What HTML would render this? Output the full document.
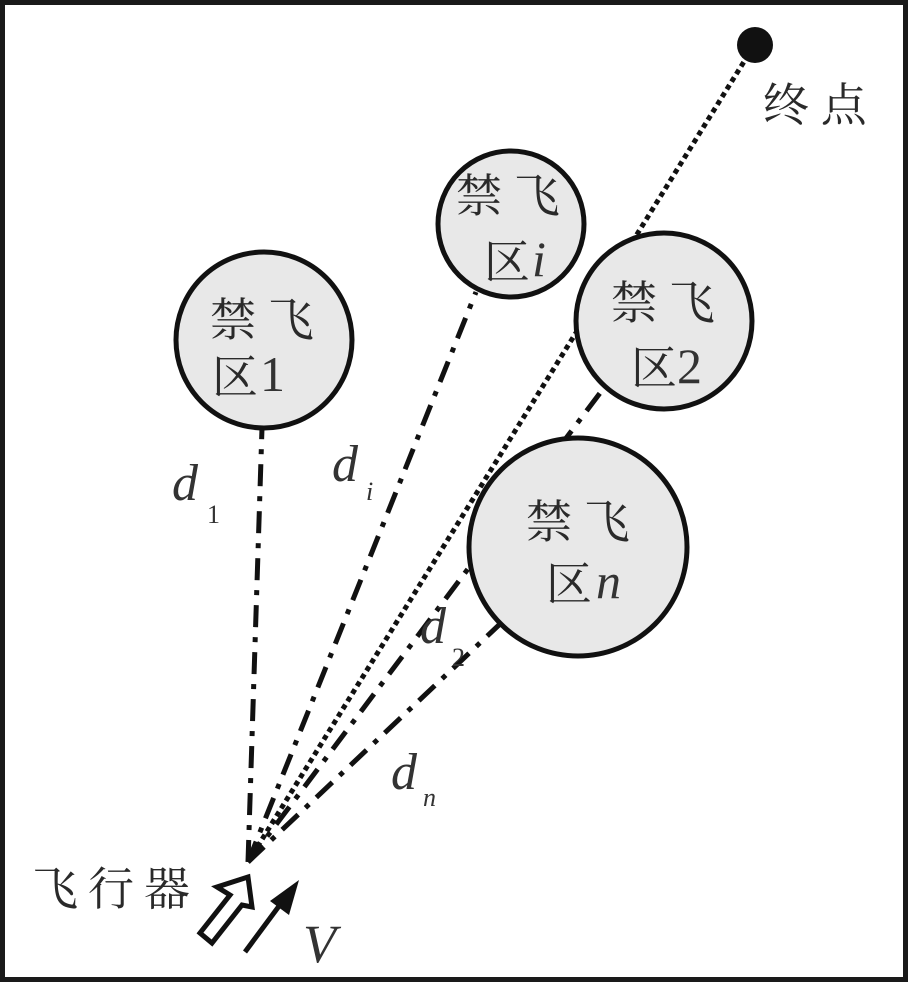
<!DOCTYPE html>
<html><head><meta charset="utf-8"><style>
html,body{margin:0;padding:0;background:#fff;}
svg{display:block;}
.cj{font-family:"Noto Serif CJK SC","Liberation Serif",serif;font-size:46px;fill:#2a2a2a;}
.it{font-family:"Liberation Serif",serif;font-style:italic;fill:#333;}
.up{font-family:"Liberation Serif",serif;font-style:normal;fill:#333;}
</style></head><body>
<svg width="910" height="984" viewBox="0 0 910 984" xmlns="http://www.w3.org/2000/svg">
<rect x="2.5" y="2.5" width="903" height="977" fill="#fff" stroke="#1a1a1a" stroke-width="5"/>
<g stroke="#111" stroke-width="5" fill="none">
<line x1="248" y1="862" x2="262" y2="428" stroke-dasharray="22,10,5,10"/>
<line x1="248" y1="862" x2="476" y2="292" stroke-dasharray="22,10,5,10"/>
<line x1="248" y1="862" x2="600" y2="393" stroke-dasharray="22,10,5,10"/>
<line x1="248" y1="862" x2="500" y2="624" stroke-dasharray="22,10,5,10"/>
<line x1="248" y1="862" x2="745" y2="60" stroke-dasharray="5,4"/>
</g>
<circle cx="755" cy="45" r="18" fill="#111"/>
<g fill="#e8e8e8" stroke="#111" stroke-width="5">
<circle cx="264" cy="340" r="88"/>
<circle cx="511" cy="224" r="73"/>
<circle cx="664" cy="321" r="88"/>
<circle cx="578" cy="547" r="109"/>
</g>
<text class="cj" x="210" y="336">禁 飞</text>
<text class="cj" x="212" y="393">区</text><text class="up" x="260" y="391" font-size="50">1</text>
<text class="cj" x="456" y="212">禁 飞</text>
<text class="cj" x="484" y="278">区</text><text class="it" x="532" y="276" font-size="50">i</text>
<text class="cj" x="611" y="319">禁 飞</text>
<text class="cj" x="631" y="384">区</text><text class="up" x="677" y="383" font-size="50">2</text>
<text class="cj" x="526" y="538">禁 飞</text>
<text class="cj" x="546" y="600">区</text><text class="it" x="596" y="598" font-size="50">n</text>
<text class="cj" x="763" y="121">终 点</text>
<text class="cj" x="32" y="905" style="letter-spacing:10px">飞行器</text>
<text class="it" x="172" y="500" font-size="52">d</text><text class="up" x="207" y="523" font-size="26">1</text>
<text class="it" x="332" y="481" font-size="52">d</text><text class="it" x="366" y="500" font-size="26">i</text>
<text class="it" x="420" y="643" font-size="52">d</text><text class="up" x="452" y="666" font-size="26">2</text>
<text class="it" x="391" y="789" font-size="52">d</text><text class="it" x="423" y="806" font-size="26">n</text>
<text class="it" x="303" y="962" font-size="54">V</text>
<polygon points="248,877 217,887 230,895 200,933 212,943 242,905 252,907" fill="#fff" stroke="#111" stroke-width="5" stroke-linejoin="miter"/>
<line x1="245" y1="952" x2="285" y2="898" stroke="#111" stroke-width="5"/>
<polygon points="299,880 289,915 270,901" fill="#111"/>
</svg>
</body></html>
